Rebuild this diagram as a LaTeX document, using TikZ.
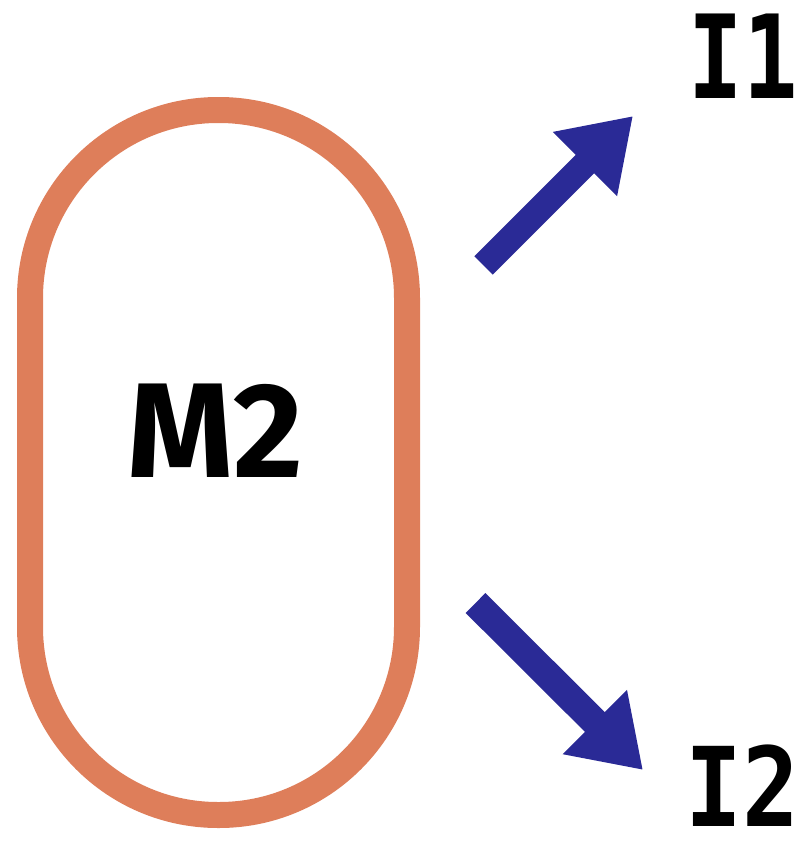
\documentclass[tikz,border=0pt]{standalone}
\usepackage{fontspec}
\setmainfont{Fira Sans}
\newfontfamily\monofam{DejaVu Sans Mono}
\usetikzlibrary{arrows.meta}
\definecolor{ringorange}{RGB}{222,126,90}
\definecolor{arrowblue}{RGB}{42,42,150}

\begin{document}
\begin{tikzpicture}[x=1pt,y=-1pt,
		box/.style={draw=ringorange, line width=26pt, rounded corners=188pt,
			minimum width=377pt, minimum height=705pt, inner sep=0pt},
		lbl/.style={font=\fontsize{116}{116}\monofam\bfseries, inner sep=0pt},
		fat/.style={draw=arrowblue, line width=#1, -{Triangle[length=68pt,width=86pt]}}]
	\useasboundingbox (0,0) rectangle (805,854);
	\node[box] (ring) at (218.5,462.5) {};
	\node[inner sep=0pt, font=\fontsize{135}{135}\selectfont\bfseries] (M2) at (215,431) {M2};
	\node[lbl] (I1) at (743,56) {\scalebox{0.78}[1]{I1}};
	\node[lbl, font=\fontsize{110}{110}\monofam\bfseries, anchor=base] (I2) at (742,826) {\scalebox{0.86}[1]{I2}};
	\coordinate (t1) at (483.5,265.5);
	\coordinate (h1) at (633,116);
	\coordinate (t2) at (475.5,603);
	\coordinate (h2) at (643,770);
	\draw[fat=26pt] (t1) -- (h1);
	\draw[fat=28pt] (t2) -- (h2);
\end{tikzpicture}
\end{document}
